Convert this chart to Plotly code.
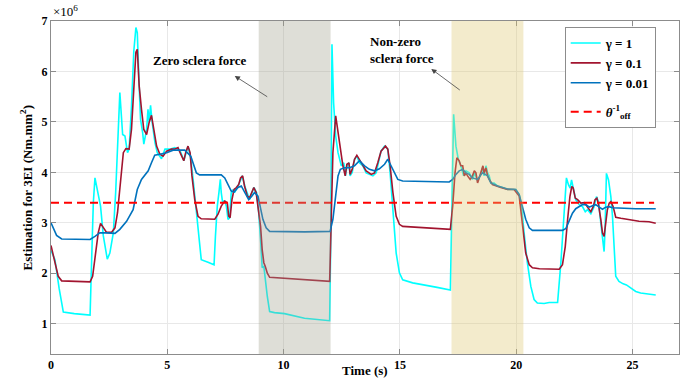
import plotly.graph_objects as go

# Estimated 3EI (x 10^6 Nm.mm^2) over time for three forgetting factors
t_g1 = [0.00, 0.17, 0.35, 0.53, 1.00, 1.68, 1.75, 1.82, 1.89, 1.97, 2.06, 2.13, 2.25, 2.42, 2.53, 2.68, 2.78, 2.88,
        2.96, 3.08, 3.18, 3.29, 3.36, 3.46, 3.56, 3.65, 3.71, 3.79, 3.85, 3.94, 3.99, 4.11, 4.17, 4.22, 4.28, 4.35,
        4.47, 4.57, 4.75, 4.90, 5.11, 5.32, 5.45, 5.58, 5.71, 5.89, 6.00, 6.11, 6.25, 6.39, 6.46, 6.75, 7.01, 7.07,
        7.15, 7.22, 7.28, 7.32, 7.37, 7.47, 7.54, 7.61, 7.68, 7.75, 7.82, 7.89, 8.05, 8.22, 8.35, 8.54, 8.72, 8.84,
        8.93, 9.01, 9.08, 9.15, 9.21, 9.30, 9.40, 9.61, 10.04, 10.90, 11.98, 12.02, 12.08, 12.15, 12.24, 12.34,
        12.48, 12.59, 12.66, 12.73, 12.81, 12.86, 12.95, 13.05, 13.15, 13.26, 13.41, 13.55, 13.69, 13.84, 13.98,
        14.08, 14.19, 14.34, 14.48, 14.58, 14.70, 14.84, 14.98, 15.12, 15.55, 16.27, 16.60, 17.17, 17.24, 17.31,
        17.41, 17.51, 17.62, 17.74, 17.84, 17.98, 18.12, 18.22, 18.34, 18.45, 18.55, 18.62, 18.70, 18.77, 18.84,
        18.91, 19.05, 19.20, 19.41, 19.63, 19.84, 19.98, 20.13, 20.23, 20.34, 20.48, 20.63, 20.77, 20.91, 21.20,
        21.42, 21.78, 21.92, 22.06, 22.16, 22.25, 22.32, 22.38, 22.45, 22.56, 22.71, 22.85, 22.97, 23.07, 23.21,
        23.35, 23.45, 23.54, 23.64, 23.71, 23.78, 23.82, 23.88, 23.97, 24.07, 24.14, 24.21, 24.28, 24.42, 24.60,
        24.74, 24.93, 25.14, 25.35, 25.71, 26.00]
v_g1 = [2.45, 2.27, 1.70, 1.23, 1.20, 1.17, 2.30, 3.40, 3.89, 3.70, 3.46, 3.33, 2.74, 2.28, 2.40, 2.80, 3.60, 4.80,
        5.58, 4.75, 4.72, 4.39, 4.46, 5.30, 6.40, 6.87, 6.77, 5.72, 5.05, 4.79, 4.56, 4.85, 5.25, 4.99, 5.33, 4.99,
        4.59, 4.39, 4.27, 4.46, 4.46, 4.49, 4.46, 4.40, 4.23, 4.52, 4.30, 3.86, 3.20, 2.54, 2.27, 2.22, 2.17, 2.74,
        3.33, 3.60, 3.86, 3.60, 3.43, 3.43, 3.33, 3.07, 3.10, 3.60, 3.66, 3.60, 3.73, 3.93, 3.70, 3.46, 3.70, 3.60,
        3.20, 2.67, 2.11, 2.14, 1.87, 1.54, 1.24, 1.22, 1.20, 1.11, 1.06, 2.40, 6.54, 5.38, 4.72, 4.39,
        4.13, 4.19, 3.93, 4.13, 4.19, 3.93, 4.00, 4.26, 4.32, 4.19, 4.13, 3.99, 3.96, 3.93, 3.99,
        4.19, 4.42, 4.52, 4.46, 3.99, 3.20, 2.40, 2.01, 1.87, 1.81, 1.74, 1.72, 1.67, 3.70, 5.15,
        4.52, 4.26, 4.13, 3.93, 4.03, 3.99, 3.86, 3.99, 3.83, 3.93, 4.09, 3.93, 4.13, 3.99, 3.93,
        3.79, 3.79, 3.73, 3.70, 3.66, 3.66, 3.66, 3.56, 3.33, 2.80, 2.21, 1.74, 1.48, 1.41, 1.40,
        1.42, 1.42, 2.20, 3.19, 3.89, 3.75, 3.69, 3.85, 3.69, 3.46, 3.36, 3.32, 3.22, 3.26, 3.18,
        3.32, 3.52, 3.42, 2.99, 2.66, 2.43, 2.85, 3.98, 3.85, 3.52, 3.13, 2.60, 1.94, 1.84, 1.79,
        1.77, 1.71, 1.64, 1.61, 1.59, 1.57]

t_g01 = [0.00, 0.17, 0.31, 0.46, 0.82, 1.68, 1.79, 1.89, 2.03, 2.13, 2.25, 2.39, 2.60, 2.75, 2.86, 2.96, 3.11, 3.22,
         3.36, 3.46, 3.56, 3.65, 3.71, 3.79, 3.89, 3.99, 4.11, 4.22, 4.32, 4.42, 4.54, 4.68, 4.82, 4.97, 5.18, 5.32,
         5.46, 5.58, 5.71, 5.79, 5.89, 5.98, 6.06, 6.18, 6.32, 6.46, 7.04, 7.18, 7.32, 7.47, 7.58, 7.64, 7.70, 7.78,
         7.87, 7.97, 8.07, 8.15, 8.24, 8.32, 8.44, 8.54, 8.64, 8.72, 8.82, 8.93, 9.01, 9.08, 9.15, 9.21, 9.30, 9.40,
         9.76, 10.90, 11.98, 12.05, 12.12, 12.24, 12.34, 12.44, 12.55, 12.65, 12.72, 12.81, 12.86, 12.95, 13.05,
         13.15, 13.26, 13.41, 13.55, 13.77, 13.91, 14.05, 14.19, 14.38, 14.48, 14.58, 14.70, 14.84, 14.98, 15.12,
         16.27, 17.17, 17.27, 17.37, 17.45, 17.55, 17.62, 17.70, 17.77, 17.84, 17.91, 18.02, 18.12, 18.20, 18.27,
         18.34, 18.41, 18.51, 18.57, 18.62, 18.70, 18.77, 18.84, 18.98, 19.13, 19.34, 19.63, 19.91, 20.13, 20.20,
         20.31, 20.41, 20.56, 20.70, 21.00, 21.42, 21.85, 21.99, 22.11, 22.21, 22.31, 22.39, 22.45, 22.54, 22.64,
         22.78, 22.92, 22.99, 23.11, 23.21, 23.31, 23.39, 23.47, 23.54, 23.64, 23.71, 23.78, 23.85, 23.92, 24.00,
         24.07, 24.17, 24.28, 24.50, 24.78, 25.07, 25.28, 25.71, 26.00]
v_g01 = [2.55, 2.20, 1.94, 1.85, 1.84, 1.83, 1.94, 2.27, 2.80, 2.99, 2.90, 2.81, 2.81, 2.90, 3.20, 3.73, 4.39, 4.47,
         4.46, 4.85, 5.72, 6.38, 6.44, 5.72, 5.25, 4.85, 4.75, 4.99, 5.13, 4.85, 4.52, 4.36, 4.32, 4.42, 4.46, 4.46,
         4.49, 4.36, 4.23, 4.39, 4.52, 4.39, 3.93, 3.46, 3.13, 3.08, 3.07, 3.17, 3.33, 3.43, 3.40, 3.13, 3.10, 3.46,
         3.66, 3.70, 3.76, 3.89, 3.93, 3.73, 3.53, 3.50, 3.63, 3.70, 3.60, 3.26, 2.93, 2.47, 2.21, 2.14, 2.00, 1.92,
         1.91, 1.87, 1.84, 3.10, 4.39, 5.12, 4.79, 4.39, 4.13, 3.93, 4.16, 4.19, 3.96, 4.06, 4.26,
         4.34, 4.26, 4.13, 4.03, 3.96, 3.99, 4.19, 4.42, 4.52, 4.46, 4.13, 3.60, 3.13, 2.97, 2.93,
         2.90, 2.87, 3.33, 3.99, 4.29, 4.23, 4.13, 4.13, 3.93, 3.99, 3.93, 3.86, 3.93, 4.03, 3.99,
         3.79, 3.89, 4.06, 4.13, 3.99, 4.09, 3.93, 3.86, 3.76, 3.73, 3.70, 3.66, 3.66, 3.53, 3.26,
         2.80, 2.40, 2.17, 2.11, 2.09, 2.08, 2.08, 2.17, 2.53, 3.06, 3.52, 3.72, 3.69, 3.49, 3.46,
         3.39, 3.40, 3.36, 3.29, 3.22, 3.32, 3.46, 3.49, 3.36, 3.06, 2.80, 2.73, 2.99, 3.26, 3.39,
         3.42, 3.32, 3.11, 3.09, 3.07, 3.05, 3.03, 3.02, 2.99]

t_g001 = [0.00, 0.24, 0.46, 1.68, 1.89, 2.10, 2.39, 2.75, 2.96, 3.25, 3.53, 3.71, 3.89, 4.18, 4.32, 4.46, 4.68, 4.97,
          5.25, 5.47, 5.75, 6.01, 6.15, 6.25, 6.39, 7.32, 7.47, 7.61, 7.75, 7.87, 8.04, 8.18, 8.32, 8.50, 8.64, 8.75,
          8.90, 9.01, 9.11, 9.25, 9.40, 10.90, 12.00, 12.12, 12.24, 12.34, 12.44, 12.62, 12.84, 13.05, 13.26, 13.48,
          13.69, 13.91, 14.12, 14.34, 14.48, 14.62, 14.77, 14.91, 15.12, 16.27, 17.12, 17.27, 17.41, 17.55, 17.70,
          17.84, 17.98, 18.12, 18.34, 18.55, 18.77, 18.91, 19.20, 19.63, 19.98, 20.13, 20.27, 20.41, 20.56, 20.70,
          21.42, 21.99, 22.14, 22.28, 22.42, 22.56, 22.71, 22.85, 23.00, 23.14, 23.28, 23.42, 23.57, 23.71, 23.85,
          23.99, 24.14, 24.57, 25.14, 26.00]
v_g001 = [3.00, 2.75, 2.68, 2.67, 2.73, 2.80, 2.80, 2.79, 2.87, 3.03, 3.26, 3.66, 3.86, 4.03, 4.19, 4.34, 4.36, 4.39,
          4.44, 4.44, 4.44, 4.32, 4.13, 3.99, 3.95, 3.95, 3.89, 3.76, 3.63, 3.61, 3.70, 3.73, 3.60, 3.46, 3.53, 3.60,
          3.53, 3.26, 3.07, 2.90, 2.83, 2.82, 2.83, 3.07, 3.53, 3.93, 4.06, 4.09, 4.09, 4.13, 4.23, 4.13,
          4.06, 4.03, 4.07, 4.16, 4.26, 4.13, 3.96, 3.86, 3.83, 3.81, 3.81, 3.86, 3.96, 4.03, 4.06,
          3.99, 3.96, 3.89, 3.86, 3.99, 3.93, 3.79, 3.73, 3.67, 3.66, 3.56, 3.33, 3.07, 2.90, 2.85,
          2.85, 2.85, 2.89, 3.03, 3.19, 3.28, 3.32, 3.36, 3.36, 3.31, 3.34, 3.36, 3.31, 3.27, 3.31,
          3.32, 3.30, 3.29, 3.28, 3.28]

# Nominal value theta_off^-1 and its time span
theta_off_inv = 3.4
t_ref = [0.0, 25.93]

# Shaded intervals (s)
zero_force_span = [8.93, 12.02]
nonzero_force_span = [17.22, 20.31]

FONT = "Liberation Serif, Times New Roman, serif"
FRAME = "#8c8c8c"

fig = go.Figure()
fig.add_trace(go.Scatter(x=t_g1, y=v_g1, mode="lines", name="γ = 1", legendgroup="est",
                         line=dict(color="#00FFFF", width=1.6)))
fig.add_trace(go.Scatter(x=t_g01, y=v_g01, mode="lines", name="γ = 0.1", legendgroup="est",
                         line=dict(color="#A2142F", width=1.6)))
fig.add_trace(go.Scatter(x=t_g001, y=v_g001, mode="lines", name="γ = 0.01", legendgroup="est",
                         line=dict(color="#0072BD", width=1.6)))
fig.add_trace(go.Scatter(x=t_ref, y=[theta_off_inv] * 2, mode="lines", legendgroup="ref",
                         name="<i>θ</i><sup>-1</sup><sub>off</sub>",
                         line=dict(color="#FF0000", width=2, dash="8px,5px")))

fig.add_shape(type="rect", xref="x", yref="paper", x0=zero_force_span[0], x1=zero_force_span[1],
              y0=0, y1=1, fillcolor="rgb(160,160,140)", opacity=0.35, line_width=0, layer="above")
fig.add_shape(type="rect", xref="x", yref="paper", x0=nonzero_force_span[0], x1=nonzero_force_span[1],
              y0=0, y1=1, fillcolor="rgb(220,198,110)", opacity=0.35, line_width=0, layer="above")

axis_common = dict(showgrid=True, gridcolor="#e8e8e8", gridwidth=1, zeroline=False,
                   showline=True, linecolor=FRAME, linewidth=1, mirror="ticks",
                   ticks="inside", ticklen=5, tickcolor=FRAME, automargin=False,
                   tickfont=dict(family=FONT, size=12, color="black", weight="bold"))

fig.update_xaxes(range=[0, 27], tickvals=[0, 5, 10, 15, 20, 25], **axis_common)
fig.update_yaxes(range=[0.4, 7], tickvals=[1, 2, 3, 4, 5, 6, 7],
                 ticktext=["1", "2", "3", "4", "5", "6", "7"], **axis_common)

annotations = [
    dict(text="×10<sup>6</sup>", xref="paper", yref="paper", x=0, y=1, xanchor="left", yanchor="bottom",
         showarrow=False, font=dict(family=FONT, size=13, color="black", weight="normal")),
    dict(text="Estimation for 3EI (Nm.mm<sup>2</sup>)", xref="paper", yref="paper", x=-0.04, y=0.5,
         xanchor="center", yanchor="middle", textangle=-90, showarrow=False,
         font=dict(family=FONT, size=13, color="black", weight="bold")),
    dict(text="Time (s)", xref="paper", yref="paper", x=0.5, y=-0.051, xanchor="center", yanchor="middle",
         showarrow=False, font=dict(family=FONT, size=13, color="black", weight="bold")),
    dict(text="Zero sclera force", xref="x", yref="y", x=6.39, y=6.21, showarrow=False,
         font=dict(family=FONT, size=13, color="black", weight="bold")),
    dict(text="Non-zero<br>sclera force", xref="x", yref="y", x=15.1, y=6.42, showarrow=False,
         align="left", font=dict(family=FONT, size=13, color="black", weight="bold")),
    dict(text="", xref="x", yref="y", x=7.9, y=5.91, axref="x", ayref="y", ax=9.36, ay=5.48,
         showarrow=True, arrowhead=2, arrowsize=1.3, arrowwidth=0.8, arrowcolor="#444444", standoff=0),
    dict(text="", xref="x", yref="y", x=16.35, y=6.05, axref="x", ayref="y", ax=17.64, ay=5.61,
         showarrow=True, arrowhead=2, arrowsize=1.3, arrowwidth=0.8, arrowcolor="#444444", standoff=0),
]

fig.update_layout(
    width=694, height=379,
    margin=dict(l=51, r=15, t=21, b=25, autoexpand=False),
    paper_bgcolor="white", plot_bgcolor="white",
    font=dict(family=FONT, size=13, color="black", weight="bold"),
    showlegend=True,
    legend=dict(x=0.818, y=0.982, xanchor="left", yanchor="top", bgcolor="white",
                bordercolor=FRAME, borderwidth=1, tracegroupgap=9, itemwidth=30,
                font=dict(family=FONT, size=13, color="black", weight="bold")),
    annotations=annotations,
)

fig.write_html("out.html")
